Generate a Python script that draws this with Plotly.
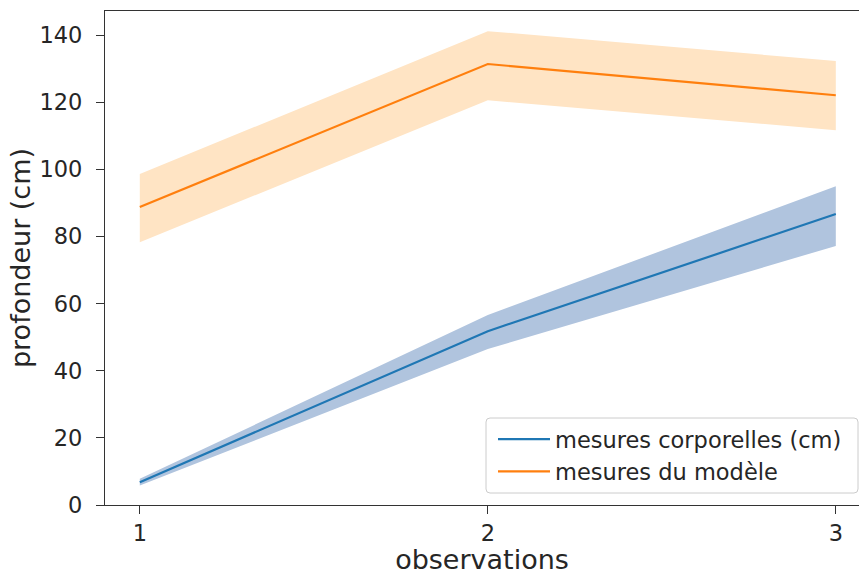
import plotly.graph_objects as go

# observation index
observations = [1, 2, 3]

# body measurements (cm): mean and confidence band
corp_mean = [6.8, 51.8, 86.7]
corp_low = [5.8, 46.5, 77.2]
corp_high = [7.8, 56.6, 95.0]

# model measurements: mean and confidence band
model_mean = [88.8, 131.4, 122.1]
model_low = [78.3, 120.6, 111.7]
model_high = [98.6, 141.2, 132.3]

BLUE = "#1f77b4"
ORANGE = "#ff7f0e"
FONT = "DejaVu Sans"
FS = 22.5

W, H = 859, 575
ML, MR, MT, MB = 105, 0, 11, 70
PW, PH = W - ML - MR, H - MT - MB


def px_x(p):
    return (p - ML) / PW


def px_y(p):
    return (H - MB - p) / PH


fig = go.Figure()


def add_band(low, high, fill):
    fig.add_trace(go.Scatter(x=observations, y=high, mode="lines",
                             line=dict(width=0), showlegend=False, hoverinfo="skip"))
    fig.add_trace(go.Scatter(x=observations, y=low, mode="lines",
                             line=dict(width=0), fill="tonexty", fillcolor=fill,
                             showlegend=False, hoverinfo="skip"))


add_band(corp_low, corp_high, "rgb(176,196,222)")
add_band(model_low, model_high, "rgb(255,228,196)")

fig.add_trace(go.Scatter(x=observations, y=corp_mean, mode="lines",
                         line=dict(color=BLUE, width=2.2),
                         name="mesures corporelles (cm)"))
fig.add_trace(go.Scatter(x=observations, y=model_mean, mode="lines",
                         line=dict(color=ORANGE, width=2.2),
                         name="mesures du modèle"))

# rounded legend frame
x0, x1, y0, y1 = px_x(486), px_x(858), px_y(493), px_y(418)
rx, ry = 4 / PW, 4 / PH
frame = (f"M{x0 + rx},{y0} L{x1 - rx},{y0} Q{x1},{y0} {x1},{y0 + ry} "
         f"L{x1},{y1 - ry} Q{x1},{y1} {x1 - rx},{y1} "
         f"L{x0 + rx},{y1} Q{x0},{y1} {x0},{y1 - ry} "
         f"L{x0},{y0 + ry} Q{x0},{y0} {x0 + rx},{y0} Z")
fig.add_shape(type="path", path=frame, xref="paper", yref="paper",
              line=dict(color="#cccccc", width=1),
              fillcolor="rgba(255,255,255,0.8)", layer="above")

fig.update_layout(
    width=W, height=H,
    margin=dict(l=ML, r=MR, t=MT, b=MB),
    paper_bgcolor="white", plot_bgcolor="white",
    font=dict(family=FONT, size=FS, color="#262626"),
    legend=dict(x=px_x(493), y=px_y(493), xanchor="left", yanchor="bottom",
                borderwidth=0, bgcolor="rgba(0,0,0,0)",
                font=dict(size=FS), traceorder="normal", tracegroupgap=0,
                itemwidth=52),
)

fig.update_xaxes(
    range=[0.9, 0.9 + PW / 348.0],
    tickvals=observations, ticktext=[str(v) for v in observations],
    ticks="outside", ticklen=8, tickwidth=1.3, tickcolor="#333",
    showline=True, linecolor="#333", linewidth=1.3, mirror=True,
    showgrid=False, zeroline=False,
    title=dict(text="observations", standoff=8),
)
fig.update_yaxes(
    range=[0, 147.2],
    tickvals=[0, 20, 40, 60, 80, 100, 120, 140],
    ticks="outside", ticklen=8, tickwidth=1.3, tickcolor="#333",
    ticklabelstandoff=9,
    showline=True, linecolor="#333", linewidth=1.3,
    showgrid=False, zeroline=False,
    title=dict(text="profondeur (cm)", standoff=0),
)

fig.write_html("out.html")
